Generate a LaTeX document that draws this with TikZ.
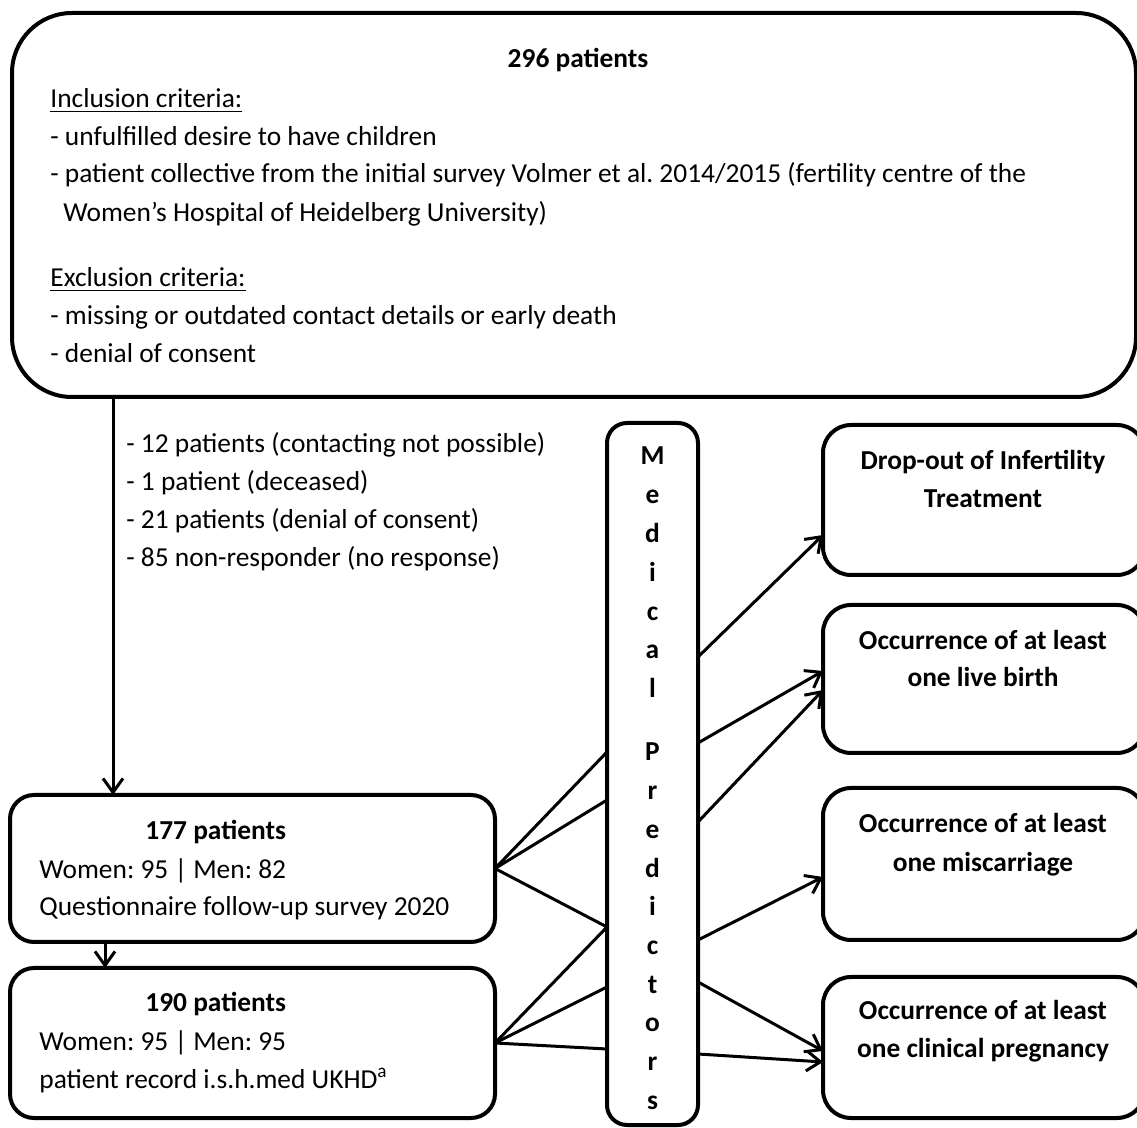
\documentclass[tikz,border=0pt]{standalone}
\usepackage{fontspec}
\setmainfont{Carlito}
\usetikzlibrary{arrows.meta,positioning,calc}
\frenchspacing

\begin{document}
\begin{tikzpicture}[
    x=0.5pt,y=-0.5pt,>={Straight Barb[length=7pt,width=10pt]},
    box/.style={draw,line width=2pt,rounded corners=12pt,inner sep=0pt,outer sep=0pt},
    txt/.style={anchor=base west,inner sep=0pt,font=\fontsize{13.7}{16}\selectfont},
    head/.style={anchor=base,inner sep=0pt,font=\fontsize{13.7}{16}\selectfont\bfseries},
    link/.style={line width=1.5pt}]
    \useasboundingbox (0,0) rectangle (1137,1128);

    \node[box,rounded corners=30pt,minimum width=562pt,minimum height=192pt] (T) at (574,205) {};
    \node[head] (T0) at (578,68) {296 patients};
    \node[txt] (T1) at (50,108) {\underline{Inclusion criteria:}};
    \node[txt] (T2) at (50,146) {- unfulfilled desire to have children};
    \node[txt] (T3) at (50,183) {- patient collective from the initial survey Volmer et al. 2014/2015 (fertility centre of the};
    \node[txt] (T4) at (63,222) {Women’s Hospital of Heidelberg University)};
    \node[txt] (T5) at (50,287) {\underline{Exclusion criteria:}};
    \node[txt] (T6) at (50,325) {- missing or outdated contact details or early death};
    \node[txt] (T7) at (50,363) {- denial of consent};

    \node[txt] (D1) at (126,453) {- 12 patients (contacting not possible)};
    \node[txt] (D2) at (126,491) {- 1 patient (deceased)};
    \node[txt] (D3) at (126,529) {- 21 patients (denial of consent)};
    \node[txt] (D4) at (126,567) {- 85 non-responder (no response)};

    \node[box,minimum width=242.5pt,minimum height=73.5pt] (P1) at (252.5,868.5) {};
    \node[box,minimum width=242.5pt,minimum height=75pt,below=13pt of P1] (P2) {};
    \node[head,anchor=base west] (P1a) at (145,840) {177 patients};
    \node[txt] (P1b) at (39,878) {Women: 95 | Men: 82};
    \node[txt] (P1c) at (39,916) {Questionnaire follow-up survey 2020};
    \node[head,anchor=base west] (P2a) at (145,1012) {190 patients};
    \node[txt] (P2b) at (39,1051) {Women: 95 | Men: 95};
    \node[txt] (P2c) at (39,1088) {patient record i.s.h.med UKHD\textsuperscript{a}};

    \node[box,rounded corners=10pt,minimum width=45.5pt,minimum height=351pt] (MP) at (652.5,774) {};
    \foreach \l [count=\i] in {M,e,d,i,c,a,l}
      \node[head] (L\i) at (652.5,465+38.8*\i-38.8) {\l};
    \foreach \l [count=\i] in {P,r,e,d,i,c,t,o,r,s}
      \node[head] (Q\i) at (652.5,761+38.7*\i-38.7) {\l};

    \node[box,rounded corners=14pt,minimum width=161pt,minimum height=75pt] (O1) at (984,500) {};
    \node[box,rounded corners=14pt,minimum width=161pt,minimum height=74pt] (O2) at (984,679) {};
    \node[box,rounded corners=14pt,minimum width=161pt,minimum height=76pt] (O3) at (984,864) {};
    \node[box,rounded corners=14pt,minimum width=161pt,minimum height=70.5pt] (O4) at (984,1047.5) {};
    \node[head] (O1a) at (983,470) {Drop-out of Infertility};
    \node[head] (O1b) at (983,508) {Treatment};
    \node[head] (O2a) at (983,650) {Occurrence of at least};
    \node[head] (O2b) at (983,687) {one live birth};
    \node[head] (O3a) at (983,833) {Occurrence of at least};
    \node[head] (O3b) at (983,872) {one miscarriage};
    \node[head] (O4a) at (983,1020) {Occurrence of at least};
    \node[head] (O4b) at (983,1058) {one clinical pregnancy};

    \coordinate (c0) at (113,0);
    \coordinate (c1) at (105,0);
    \draw[link,->] (T.south -| c0) -- (P1.north -| c0);
    \draw[link,->] (P1.south -| c1) -- (P2.north -| c1);

    \draw[link] (P1.east) -- (MP.west |- 0,752);
    \draw[link] (P1.east) -- (MP.west |- 0,800);
    \draw[link] (P1.east) -- (MP.west |- 0,927);
    \draw[link] (P2.east) -- (MP.west |- 0,927);
    \draw[link] (P2.east) -- (MP.west |- 0,987);
    \draw[link] (P2.east) -- (MP.west |- 0,1049);

    \draw[link,->] (MP.east |- 0,657) -- (O1.west |- 0,535);
    \draw[link,->] (MP.east |- 0,743) -- (O2.west |- 0,671);
    \draw[link,->] (MP.east |- 0,822) -- (O2.west |- 0,690);
    \draw[link,->] (MP.east |- 0,940) -- (O3.west |- 0,877);
    \draw[link,->] (MP.east |- 0,982) -- (O4.west |- 0,1051);
    \draw[link,->] (MP.east |- 0,1054) -- (O4.west |- 0,1062);
  \end{tikzpicture}
\end{document}
